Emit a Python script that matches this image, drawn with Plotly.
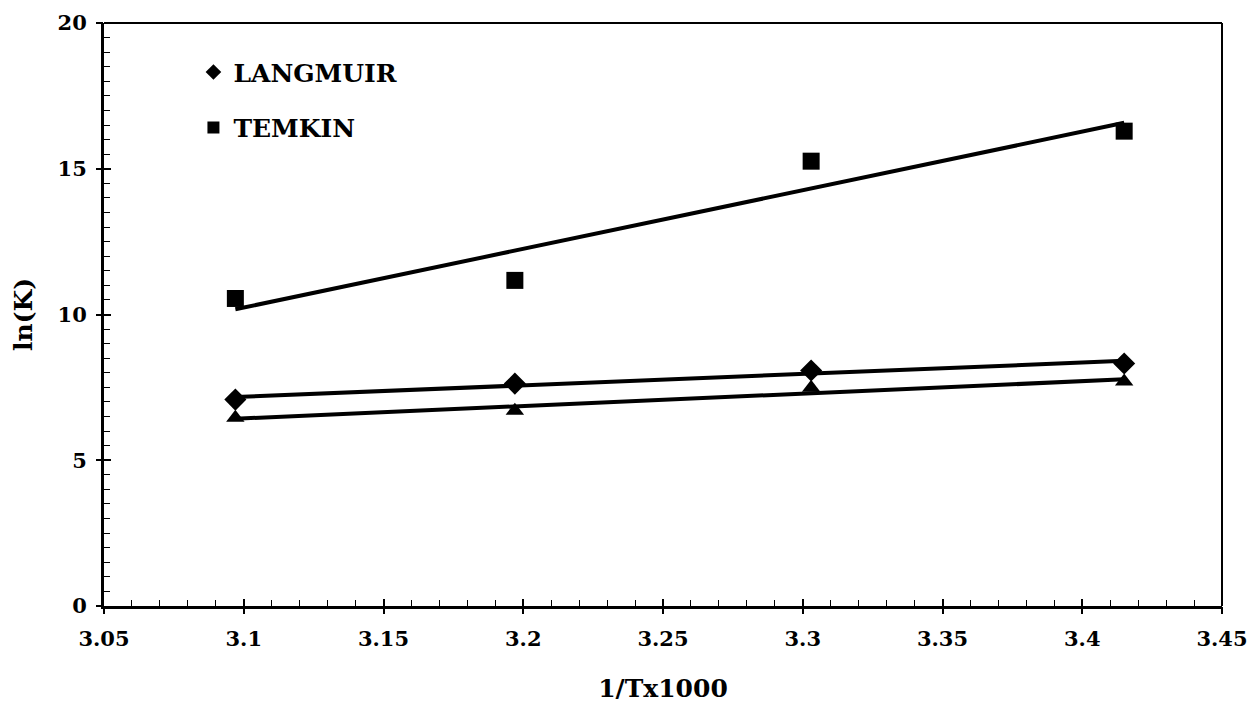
import numpy as np
import plotly.graph_objects as go

# 1/T x 1000 for the four temperatures
inv_t = [3.097, 3.197, 3.303, 3.415]

# ln(K) values for each isotherm model
langmuir = [7.08, 7.63, 8.08, 8.32]
temkin = [10.55, 11.17, 15.26, 16.29]
third = [6.46, 6.70, 7.49, 7.70]

x_ticks = [3.05, 3.1, 3.15, 3.2, 3.25, 3.3, 3.35, 3.4, 3.45]
x_tick_text = ["3.05", "3.1", "3.15", "3.2", "3.25", "3.3", "3.35", "3.4", "3.45"]
y_ticks = [0, 5, 10, 15, 20]

# bold serif face that is available locally
FONT = "DejaVu Serif"


def bold(s):
    return "<b>" + s + "</b>"


fig = go.Figure()


def add_series(y, symbol, size, name, legend, group):
    x = np.array(inv_t)
    coef = np.polyfit(x, np.array(y), 1)
    xl = np.array([x.min(), x.max()])
    fig.add_trace(go.Scatter(
        x=xl, y=np.polyval(coef, xl), mode="lines",
        line=dict(color="black", width=4), showlegend=False, hoverinfo="skip"))
    fig.add_trace(go.Scatter(
        x=inv_t, y=y, mode="markers", name=bold(name), showlegend=legend,
        legendgroup=group,
        marker=dict(symbol=symbol, size=size, color="black")))


add_series(langmuir, "diamond", 17, "LANGMUIR", True, "a")
add_series(temkin, "square", 17, "TEMKIN", True, "b")
add_series(third, "triangle-up", 16, "", False, "c")

# invisible trace that carries the outward half of the crossing major ticks
fig.add_trace(go.Scatter(x=[3.05], y=[0], xaxis="x2", yaxis="y2",
                         mode="markers", marker=dict(opacity=0),
                         showlegend=False, hoverinfo="skip"))

tick_font = dict(family=FONT, size=21, color="black")

fig.update_layout(
    width=1258, height=705,
    margin=dict(l=104, r=36, t=23, b=99),
    paper_bgcolor="white", plot_bgcolor="white",
    font=dict(family=FONT, color="black"),
    xaxis=dict(
        range=[3.05, 3.45], tickvals=x_ticks, ticktext=[bold(t) for t in x_tick_text],
        ticks="inside", ticklen=7, tickwidth=2, tickcolor="black",
        minor=dict(dtick=0.01, tick0=3.05, ticks="inside", ticklen=6,
                   tickwidth=1, tickcolor="black"),
        showline=True, linecolor="black", linewidth=3, mirror=False,
        showgrid=False, zeroline=False, automargin=False,
        tickfont=tick_font, ticklabelstandoff=12,
        title=dict(text=bold("1/Tx1000"), standoff=30,
                   font=dict(family=FONT, size=25, color="black")),
    ),
    yaxis=dict(
        range=[0, 20], tickvals=y_ticks, ticktext=[bold(str(v)) for v in y_ticks],
        ticks="inside", ticklen=7, tickwidth=2, tickcolor="black",
        minor=dict(dtick=0.5, tick0=0, ticks="inside", ticklen=6,
                   tickwidth=1, tickcolor="black"),
        showline=True, linecolor="black", linewidth=3,
        showgrid=False, zeroline=False, automargin=False,
        tickfont=tick_font, ticklabelstandoff=10,
        title=dict(text=bold("ln(K)"), standoff=18,
                   font=dict(family=FONT, size=25, color="black")),
    ),
    xaxis2=dict(range=[3.05, 3.45], tickvals=x_ticks, ticks="outside",
                ticklen=7, tickwidth=2, tickcolor="black", showticklabels=False,
                showline=False, showgrid=False, zeroline=False, automargin=False,
                overlaying="x", side="bottom", anchor="y2"),
    yaxis2=dict(range=[0, 20], tickvals=y_ticks, ticks="outside",
                ticklen=7, tickwidth=2, tickcolor="black", showticklabels=False,
                showline=False, showgrid=False, zeroline=False, automargin=False,
                overlaying="y", side="left", anchor="x2"),
    legend=dict(x=0.08, y=0.955, xanchor="left", yanchor="top",
                bgcolor="rgba(0,0,0,0)", itemsizing="constant",
                tracegroupgap=20, itemwidth=30,
                font=dict(family=FONT, size=25, color="black")),
    shapes=[
        # thin frame on the top and right of the plot area
        dict(type="line", xref="paper", yref="paper", x0=0, x1=1, y0=1, y1=1,
             line=dict(color="black", width=2)),
        dict(type="line", xref="paper", yref="paper", x0=1, x1=1, y0=0, y1=1,
             line=dict(color="black", width=2)),
    ],
)

fig.write_html("out.html")
